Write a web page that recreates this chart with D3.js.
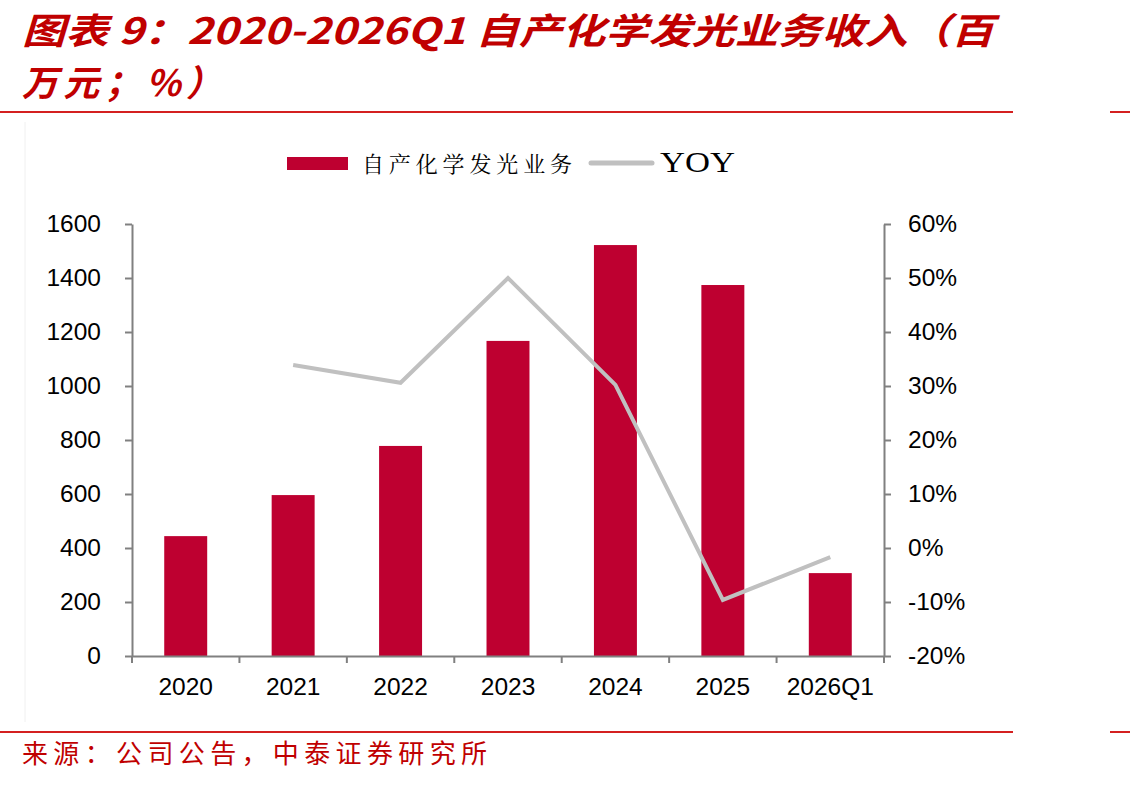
<!DOCTYPE html>
<html lang="zh">
<head>
<meta charset="UTF-8">
<script src="https://cdn.jsdelivr.net/npm/d3@7"></script>
<style>
  body { margin: 0; background: #fff; }
  svg { display: block; }
  .tick text { font-family: "Liberation Sans", Arial, sans-serif; font-size: 24.5px; fill: #000; }
</style>
</head>
<body>
<svg id="chart" width="1130" height="785"></svg>
<script>
// data
const categories = ['2020', '2021', '2022', '2023', '2024', '2025', '2026Q1'];
const revenue = [444, 596, 778, 1167, 1522, 1374, 307];
const yoy = [null, 33.9, 30.6, 50.0, 30.2, -9.6, -1.7];
const leftTicks = [0, 200, 400, 600, 800, 1000, 1200, 1400, 1600];
const rightTicks = [-20, -10, 0, 10, 20, 30, 40, 50, 60];

const red = '#be0030';
const titleRed = '#c00000';
const axisGray = '#808080';

const svg = d3.select('#chart');
const plotLeft = 132, plotRight = 884, plotTop = 224, plotBottom = 656;

// title
const title = svg.append('g')
  .attr('font-family', '"Noto Sans CJK SC", sans-serif')
  .attr('font-weight', 'bold')
  .attr('font-style', 'italic')
  .attr('font-size', 36)
  .attr('fill', titleRed);
title.append('text').attr('x', 22).attr('y', 44)
  .attr('textLength', 972).attr('lengthAdjust', 'spacingAndGlyphs')
  .text('图表 9：2020-2026Q1 自产化学发光业务收入（百');
title.append('text').attr('x', 22).attr('y', 96)
  .attr('textLength', 200).attr('lengthAdjust', 'spacing')
  .text('万元；%）');

// rules
[112, 732].forEach(y => {
  svg.append('line').attr('x1', 0).attr('x2', 1013).attr('y1', y).attr('y2', y)
    .attr('stroke', '#d42020').attr('stroke-width', 2);
  svg.append('line').attr('x1', 1110).attr('x2', 1130).attr('y1', y).attr('y2', y)
    .attr('stroke', '#d42020').attr('stroke-width', 2);
});
svg.append('line').attr('x1', 25).attr('x2', 25).attr('y1', 122).attr('y2', 722)
  .attr('stroke', '#f0f0f0').attr('stroke-width', 1);

// source
svg.append('text').attr('x', 22).attr('y', 763)
  .attr('font-family', '"Noto Sans CJK SC", sans-serif')
  .attr('font-size', 26).attr('fill', titleRed)
  .attr('textLength', 465).attr('lengthAdjust', 'spacing')
  .text('来源：公司公告，中泰证券研究所');

// scales
const x = d3.scaleBand().domain(categories).range([plotLeft, plotRight]).paddingInner(0).paddingOuter(0);
const yL = d3.scaleLinear().domain([0, 1600]).range([plotBottom, plotTop]);
const yR = d3.scaleLinear().domain([-20, 60]).range([plotBottom, plotTop]);
const barW = x.bandwidth() * 0.4;

// bars
svg.append('g').selectAll('rect').data(revenue).join('rect')
  .attr('x', (d, i) => x(categories[i]) + (x.bandwidth() - barW) / 2)
  .attr('y', d => yL(d))
  .attr('width', barW)
  .attr('height', d => plotBottom - yL(d))
  .attr('fill', red);

// line
const pts = yoy.map((v, i) => ({ c: categories[i], v })).filter(d => d.v !== null);
svg.append('path').datum(pts)
  .attr('fill', 'none').attr('stroke', '#c0c0c0').attr('stroke-width', 4)
  .attr('d', d3.line().x(d => x(d.c) + x.bandwidth() / 2).y(d => yR(d.v)));

// axes
function styleAxis(g) {
  g.select('.domain').attr('stroke', axisGray).attr('stroke-width', 2);
  g.selectAll('.tick line').attr('stroke', axisGray).attr('stroke-width', 2);
  g.selectAll('text').attr('font-family', null).attr('font-size', null);
}
svg.append('g').attr('transform', `translate(${plotLeft},0)`)
  .call(d3.axisLeft(yL).tickValues(leftTicks).tickSize(7).tickPadding(24).tickSizeOuter(0)
    .tickFormat(d3.format('d')))
  .call(styleAxis);

svg.append('g').attr('transform', `translate(${plotRight},0)`)
  .call(d3.axisRight(yR).tickValues(rightTicks).tickSize(7).tickPadding(17).tickSizeOuter(0)
    .tickFormat(d => d + '%'))
  .call(styleAxis);

const xAxis = svg.append('g').attr('transform', `translate(0,${plotBottom})`)
  .call(d3.axisBottom(x).tickSize(0).tickPadding(22).tickSizeOuter(0))
  .call(styleAxis);
// tick marks at category boundaries
xAxis.selectAll('.sep').data(categories.concat(['end'])).join('line')
  .attr('class', 'sep')
  .attr('x1', (d, i) => plotLeft + i * x.bandwidth())
  .attr('x2', (d, i) => plotLeft + i * x.bandwidth())
  .attr('y1', 0).attr('y2', 7)
  .attr('stroke', axisGray).attr('stroke-width', 2);

// legend
const lg = svg.append('g').attr('font-family', '"Noto Serif CJK SC", "Liberation Serif", serif').attr('font-size', 22);
lg.append('rect').attr('x', 287).attr('y', 157).attr('width', 61).attr('height', 13).attr('fill', red);
lg.append('text').attr('x', 362).attr('y', 172)
  .attr('textLength', 210).attr('lengthAdjust', 'spacing')
  .text('自产化学发光业务');
lg.append('line').attr('x1', 591).attr('x2', 652).attr('y1', 163).attr('y2', 163)
  .attr('stroke', '#c0c0c0').attr('stroke-width', 5).attr('stroke-linecap', 'round');
lg.append('text').attr('x', 660).attr('y', 172).attr('font-family', '"Liberation Serif", serif').attr('font-size', 29)
  .attr('textLength', 75).attr('lengthAdjust', 'spacingAndGlyphs').text('YOY');
</script>
</body>
</html>
